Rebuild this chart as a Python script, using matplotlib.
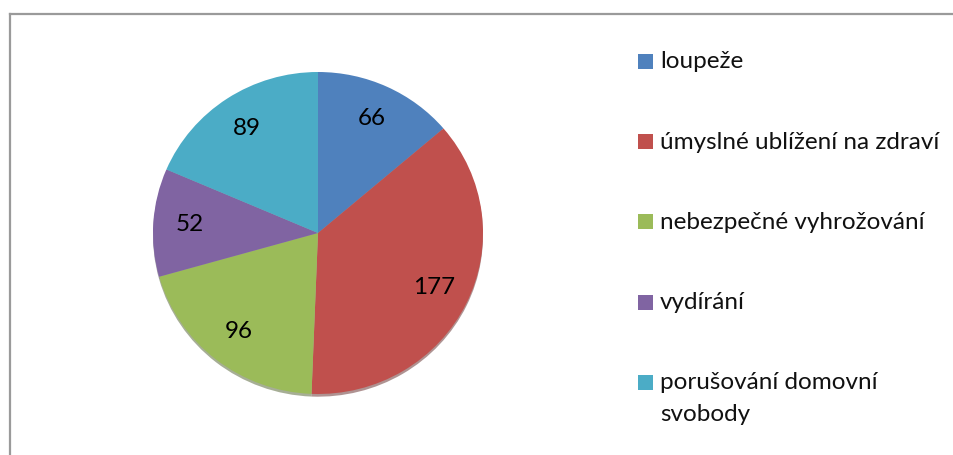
import matplotlib
matplotlib.use("Agg")
import matplotlib.pyplot as plt
from matplotlib.lines import Line2D
from matplotlib.patches import Rectangle

# ---------------------------------------------------------------- data
categories = ["loupeže", "úmyslné ublížení na zdraví", "nebezpečné vyhrožování",
              "vydírání", "porušování domovní\nsvobody"]
values = [66, 177, 96, 52, 89]
colors = ["#4F81BD", "#C0504D", "#9BBB59", "#8064A2", "#4BACC6"]

W, H = 954, 455
plt.rcParams["font.family"] = ["Lato", "DejaVu Sans"]

fig = plt.figure(figsize=(W / 100, H / 100), dpi=100)

# chart area border: only top and left edges are inside the picture
border = dict(transform=fig.transFigure, color="#9a9a9a", lw=1.6)
fig.lines.append(Line2D([10 / W, 1.05], [1 - 14 / H] * 2, **border))
fig.lines.append(Line2D([10 / W] * 2, [-0.05, 1 - 14 / H], **border))

# pie axes, placed in pixels (slightly elliptic like the original)
cx, cy, rx, ry = 318, 233, 165, 161
ax = fig.add_axes([(cx - rx) / W, (H - cy - ry) / H, 2 * rx / W, 2 * ry / H])
wedges, _, autotexts = ax.pie(
    values, colors=colors, startangle=90, counterclock=False,
    autopct=lambda p: f"{p * sum(values) / 100:.0f}", pctdistance=0.78,
    shadow=dict(ox=0, oy=-0.012, shade=0.5),
    wedgeprops=dict(linewidth=0), textprops=dict(fontsize=17.5, color="black"))
ax.set_aspect("auto")
ax.set_xlim(-1, 1)
ax.set_ylim(-1, 1)
ax.axis("off")

# legend, laid out by hand (one text per line so baselines are exact)
lx, ly0, dy, line_h = 638, 61.5, 80.2, 31.5
for i, (name, col) in enumerate(zip(categories, colors)):
    y = ly0 + i * dy
    fig.patches.append(Rectangle((lx / W, 1 - (y + 7.5) / H), 15 / W, 15 / H,
                                 transform=fig.transFigure, color=col, lw=0))
    for j, part in enumerate(name.split("\n")):
        fig.text((lx + 22) / W, 1 - (y + 7 + j * line_h) / H, part,
                 fontsize=17.5, va="baseline", ha="left", color="#111111")

fig.savefig("out.png", dpi=100)
